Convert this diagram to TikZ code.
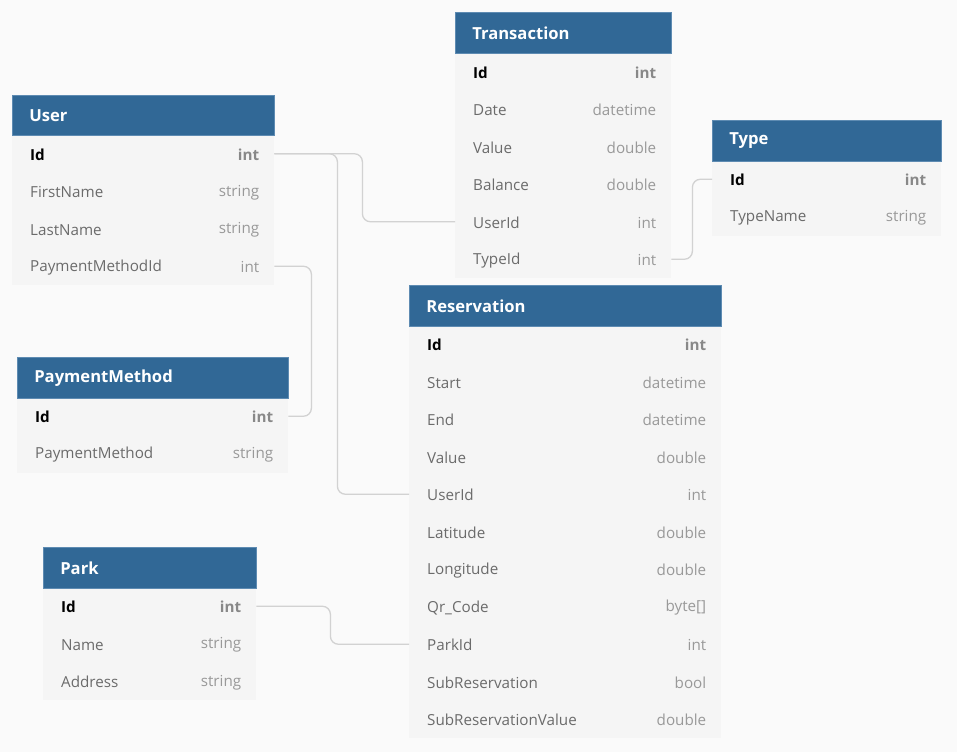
\documentclass[tikz,border=0pt]{standalone}
\usepackage{fontspec}
\setmainfont{Open Sans}
\definecolor{BgCol}{HTML}{FAFAFA}
\definecolor{BodyCol}{HTML}{F5F5F5}
\definecolor{HdrCol}{HTML}{316896}
\definecolor{HdrEdge}{HTML}{5E8BB2}
\definecolor{NameCol}{HTML}{6B6B6B}
\definecolor{TypeCol}{HTML}{999999}
\definecolor{BoldType}{HTML}{888888}
\definecolor{ConnCol}{HTML}{D2D2D2}
\tikzset{
  hdr/.style={draw=HdrEdge, line width=0.6pt, fill=HdrCol, minimum height=40.5pt, inner sep=0pt,
     text=white, font=\fontsize{16.6}{19}\selectfont\bfseries, align=left},
  rowbox/.style={fill=BodyCol, draw=none, minimum height=37.5pt, inner sep=0pt},
  fnameb/.style={inner sep=0pt, text=black, font=\fontsize{15.2}{18}\selectfont\bfseries},
  fnamen/.style={inner sep=0pt, text=NameCol, font=\fontsize{15.2}{18}\selectfont},
  ftypeb/.style={inner sep=0pt, text=BoldType, font=\fontsize{15.2}{18}\selectfont\bfseries},
  ftypen/.style={inner sep=0pt, text=TypeCol, font=\fontsize{15.2}{18}\selectfont},
  conn/.style={draw=ConnCol, line width=1.3pt, rounded corners=8pt}
}
\newcommand{\erTable}[6]{%
  \foreach \f/\t/\k [count=\i] in {#6} {
    \pgfmathsetmacro\yc{#4+40.5+37.5*(\i-0.5)}
    \node[rowbox, minimum width={#3-#2}, anchor=west] (#1-\i) at (#2,\yc) {};
    \node[fname\k, anchor=west] at ([xshift=18pt,yshift=-1pt]#1-\i.west) {\f};
    \node[ftype\k, anchor=east] at ([xshift=-15pt,yshift=-1pt]#1-\i.east) {\t};
  }
  \node[hdr, minimum width={#3-#2}, anchor=north west] (#1) at (#2,#4) {};
  \node[hdr, draw=none, fill=none, minimum height=0pt, anchor=west] at ([xshift=17pt,yshift=-0.5pt]#1.west) {#5};
}
\begin{document}
\begin{tikzpicture}[x=1pt, y=-1pt]
\useasboundingbox (0,0) rectangle (957,752);
\fill[BgCol] (0,0) rectangle (957,752);
\erTable{user}{12}{274}{94.5}{User}{Id/int/b, FirstName/string/n, LastName/string/n, PaymentMethodId/int/n}
\erTable{trans}{455}{671}{12.5}{Transaction}{Id/int/b, Date/datetime/n, Value/double/n, Balance/double/n, UserId/int/n, TypeId/int/n}
\erTable{type}{712}{941}{120}{Type}{Id/int/b, TypeName/string/n}
\erTable{pm}{17}{288}{357}{PaymentMethod}{Id/int/b, PaymentMethod/string/n}
\erTable{res}{409}{721}{285}{Reservation}{Id/int/b, Start/datetime/n, End/datetime/n, Value/double/n, UserId/int/n, Latitude/double/n, Longitude/double/n, Qr\_Code/byte[]/n, ParkId/int/n, SubReservation/bool/n, SubReservationValue/double/n}
\erTable{park}{43}{256}{547}{Park}{Id/int/b, Name/string/n, Address/string/n}
\draw[conn] (user-1.east) -- ++(88,0) |- (trans-5.west);
\draw[conn] (user-1.east) -- ++(63,0) |- (res-5.west);
\draw[conn] (user-4.east) -- ++(37,0) |- (pm-1.east);
\draw[conn] (trans-6.east) -- ++(21,0) |- (type-1.west);
\draw[conn] (park-1.east) -- ++(74,0) |- (res-9.west);
\end{tikzpicture}
\end{document}
